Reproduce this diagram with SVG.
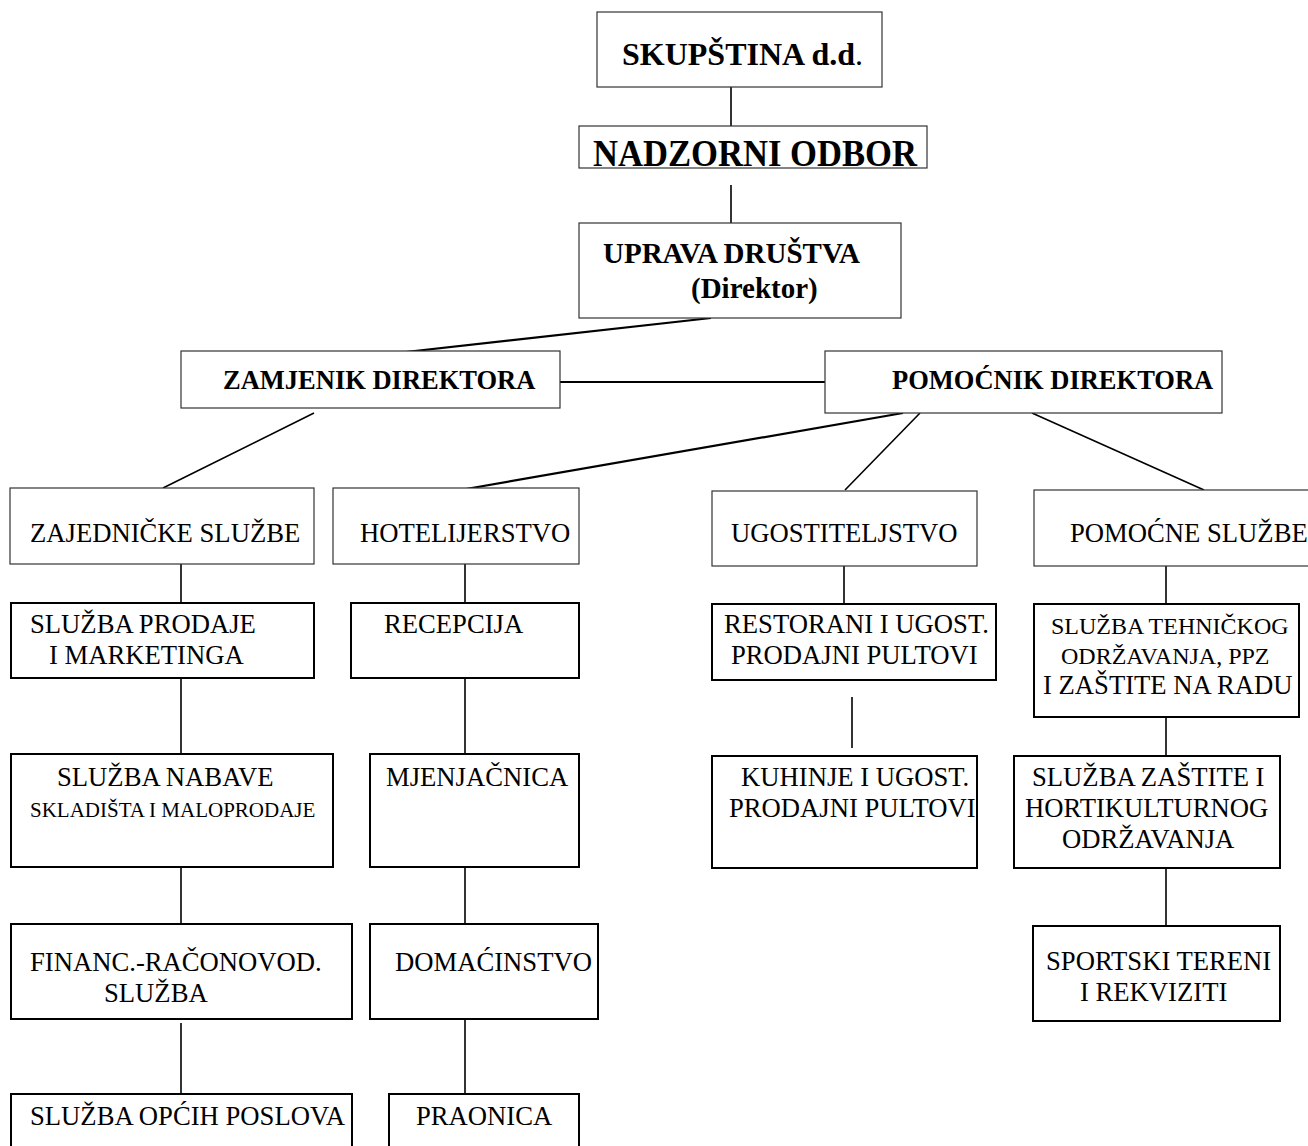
<svg xmlns="http://www.w3.org/2000/svg" width="1308" height="1146" viewBox="0 0 1308 1146">
<style>
.bg{fill:#fff}
.b1{fill:#fff;stroke:#333;stroke-width:1.2}
.b2{fill:#fff;stroke:#000;stroke-width:2}
.t{font-family:"Liberation Serif","Times New Roman",serif;font-size:26.67px;fill:#000}
.s24{font-size:24px}
.s21{font-size:21px}
.tb{font-family:"Liberation Serif","Times New Roman",serif;font-weight:bold;fill:#000}
.c{stroke:#000;stroke-width:1.6;fill:none}
.c2{stroke:#000;stroke-width:2.2;fill:none}
</style>
<rect class="bg" x="0" y="0" width="1308" height="1146"/>
<g id="connectors">
<line class="c" x1="731" y1="87" x2="731" y2="126"/>
<line class="c" x1="731" y1="185" x2="731" y2="223"/>
<line class="c2" x1="711" y1="318" x2="370" y2="356"/>
<line class="c2" x1="560" y1="382" x2="825" y2="382"/>
<line class="c" x1="314" y1="413" x2="163" y2="488"/>
<line class="c2" x1="903" y1="413" x2="466" y2="489"/>
<line class="c" x1="920" y1="413" x2="845" y2="490"/>
<line class="c" x1="1032" y1="413" x2="1204" y2="490"/>
<line class="c" x1="181" y1="564" x2="181" y2="603"/>
<line class="c" x1="465" y1="564" x2="465" y2="603"/>
<line class="c" x1="181" y1="678" x2="181" y2="754"/>
<line class="c" x1="465" y1="678" x2="465" y2="754"/>
<line class="c" x1="181" y1="867" x2="181" y2="924"/>
<line class="c" x1="465" y1="867" x2="465" y2="924"/>
<line class="c" x1="181" y1="1023" x2="181" y2="1094"/>
<line class="c" x1="465" y1="1019" x2="465" y2="1094"/>
<line class="c" x1="844" y1="566" x2="844" y2="604"/>
<line class="c" x1="852" y1="697" x2="852" y2="748"/>
<line class="c" x1="1166" y1="566" x2="1166" y2="604"/>
<line class="c" x1="1166" y1="717" x2="1166" y2="760"/>
<line class="c" x1="1166" y1="868" x2="1166" y2="926"/>
</g>
<g id="skupstina">
<rect class="b1" x="597" y="12" width="285" height="75"/>
<text class="tb" x="622" y="65" font-size="32">SKUPŠTINA d.d<tspan font-weight="normal">.</tspan></text>
</g>
<g id="nadzorni">
<rect class="b1" x="579" y="126" width="348" height="42"/>
<text class="tb" x="593" y="166" font-size="37" textLength="324" lengthAdjust="spacingAndGlyphs">NADZORNI ODBOR</text>
</g>
<g id="uprava">
<rect class="b1" x="579" y="223" width="322" height="95"/>
<text class="tb" x="603" y="263" font-size="29">UPRAVA DRUŠTVA</text>
<text class="tb" x="691" y="298" font-size="29">(Direktor)</text>
</g>
<g id="zamjenik">
<rect class="b1" x="181" y="351" width="379" height="57"/>
<text class="tb" x="223" y="389" font-size="26.5">ZAMJENIK DIREKTORA</text>
</g>
<g id="pomocnik">
<rect class="b1" x="825" y="351" width="397" height="62"/>
<text class="tb" x="892" y="389" font-size="26.5">POMOĆNIK DIREKTORA</text>
</g>
<g id="zajednicke">
<rect class="b1" x="10" y="488" width="304" height="76"/>
<text class="t" x="30" y="542">ZAJEDNIČKE SLUŽBE</text>
</g>
<g id="hotelijerstvo">
<rect class="b1" x="333" y="488" width="246" height="76"/>
<text class="t" x="360" y="542">HOTELIJERSTVO</text>
</g>
<g id="ugostiteljstvo">
<rect class="b1" x="712" y="491" width="265" height="75"/>
<text class="t" x="731" y="542">UGOSTITELJSTVO</text>
</g>
<g id="pomocne">
<rect class="b1" x="1034" y="490" width="300" height="76"/>
<text class="t" x="1070" y="542">POMOĆNE SLUŽBE</text>
</g>
<g id="prodaja">
<rect class="b2" x="11" y="603" width="303" height="75"/>
<text class="t" x="30" y="633">SLUŽBA PRODAJE</text>
<text class="t" x="49" y="664">I MARKETINGA</text>
</g>
<g id="recepcija">
<rect class="b2" x="351" y="603" width="228" height="75"/>
<text class="t" x="384" y="633">RECEPCIJA</text>
</g>
<g id="nabava">
<rect class="b2" x="11" y="754" width="322" height="113"/>
<text class="t" x="57" y="786">SLUŽBA NABAVE</text>
<text class="t s21" x="30" y="817">SKLADIŠTA I MALOPRODAJE</text>
</g>
<g id="mjenjacnica">
<rect class="b2" x="370" y="754" width="209" height="113"/>
<text class="t" x="386" y="786">MJENJAČNICA</text>
</g>
<g id="financ">
<rect class="b2" x="11" y="924" width="341" height="95"/>
<text class="t" x="30" y="971">FINANC.-RAČONOVOD.</text>
<text class="t" x="104" y="1002">SLUŽBA</text>
</g>
<g id="domacinstvo">
<rect class="b2" x="370" y="924" width="228" height="95"/>
<text class="t" x="395" y="971">DOMAĆINSTVO</text>
</g>
<g id="opci-poslovi">
<rect class="b2" x="11" y="1094" width="341" height="70"/>
<text class="t" x="30" y="1125">SLUŽBA OPĆIH POSLOVA</text>
</g>
<g id="praonica">
<rect class="b2" x="389" y="1094" width="190" height="70"/>
<text class="t" x="416" y="1125">PRAONICA</text>
</g>
<g id="restorani">
<rect class="b2" x="712" y="604" width="284" height="76"/>
<text class="t" x="724" y="633">RESTORANI I UGOST.</text>
<text class="t" x="731" y="664">PRODAJNI PULTOVI</text>
</g>
<g id="kuhinje">
<rect class="b2" x="712" y="756" width="265" height="112"/>
<text class="t" x="741" y="786">KUHINJE I UGOST.</text>
<text class="t" x="729" y="817">PRODAJNI PULTOVI</text>
</g>
<g id="tehnicko">
<rect class="b2" x="1034" y="604" width="265" height="113"/>
<text class="t s24" x="1051" y="634">SLUŽBA TEHNIČKOG</text>
<text class="t s24" x="1061" y="664">ODRŽAVANJA, PPZ</text>
<text class="t" x="1043" y="694">I ZAŠTITE NA RADU</text>
</g>
<g id="zastita">
<rect class="b2" x="1014" y="756" width="266" height="112"/>
<text class="t" x="1032" y="786">SLUŽBA ZAŠTITE I</text>
<text class="t" x="1025" y="817">HORTIKULTURNOG</text>
<text class="t" x="1062" y="848">ODRŽAVANJA</text>
</g>
<g id="sportski">
<rect class="b2" x="1033" y="926" width="247" height="95"/>
<text class="t" x="1046" y="970">SPORTSKI TERENI</text>
<text class="t" x="1080" y="1001">I REKVIZITI</text>
</g>
</svg>
